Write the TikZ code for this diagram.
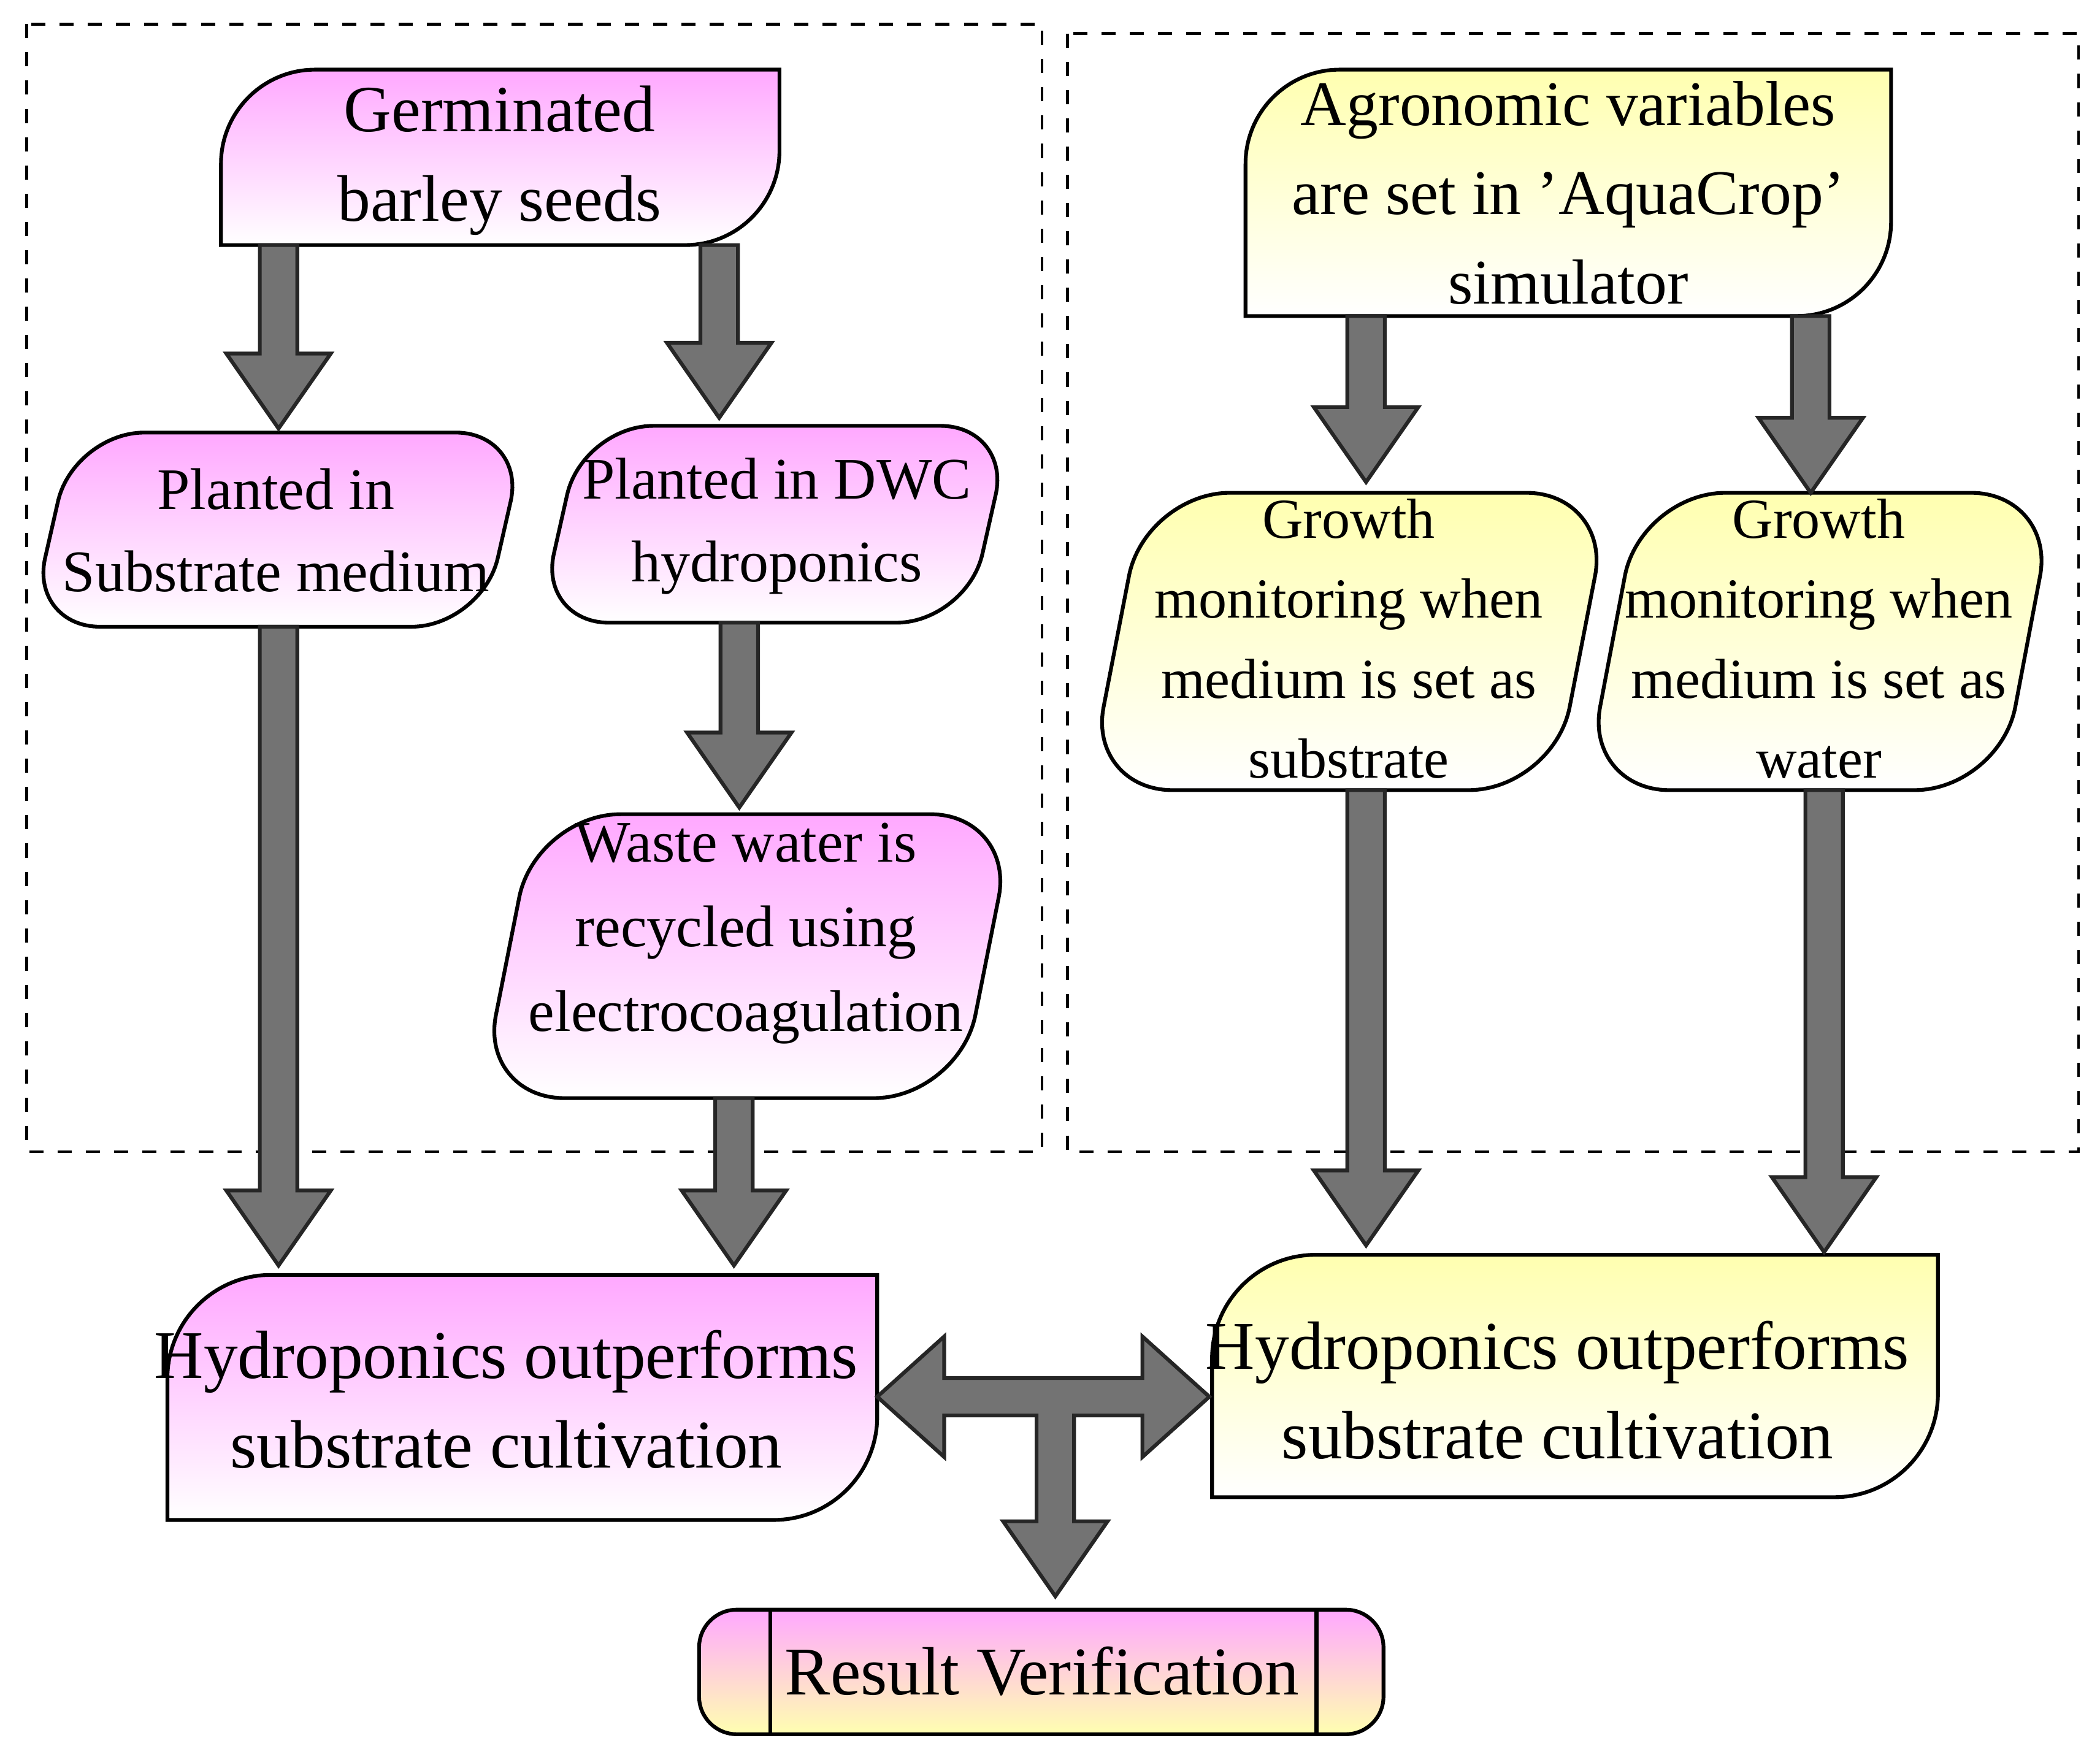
\documentclass[tikz,border=0pt]{standalone}
\usepackage{fontspec}
\setmainfont{Liberation Serif}
\begin{document}
\begin{tikzpicture}[x=0.01cm,y=-0.01cm,
  pinkbox/.style={draw=black,line width=0.8pt,top color=pinktop,bottom color=white},
  yelbox/.style={draw=black,line width=0.8pt,top color=yeltop,bottom color=white},
  txt/.style={align=center,font=\fontsize{12.5}{17.5}\selectfont},
  big/.style={align=center,font=\fontsize{14.5}{19}\selectfont},
  blk/.style={draw=black!85,line width=0.8pt,fill=black!55,line join=miter},
  frame/.style={draw,dashed,line width=0.6pt}]
\definecolor{pinktop}{HTML}{FFA8FF}
\definecolor{yeltop}{HTML}{FFFFB0}
\useasboundingbox (0,0) rectangle (1568,1312);
\fill[white] (0,0) rectangle (1568,1312);
% vertical block arrow: x, ystart, yend
\newcommand\vblk[3]{\draw[blk] (#1-14,#2) -- (#1+14,#2) -- (#1+14,#3-56) -- (#1+39,#3-56) -- (#1,#3) -- (#1-39,#3-56) -- (#1-14,#3-56) -- cycle;}
% frames
\draw[frame] (20,18) rectangle (778,860);
\draw[frame] (797,25) rectangle (1552,860);
% boxes
\path[pinkbox] (165,183) [rounded corners=20]-- (165,52) [sharp corners]-- (582,52) [rounded corners=20]-- (582,183) [sharp corners]-- cycle;
\node[txt,font=\fontsize{14}{19}\selectfont] (germ) at (373,120) {Germinated\\barley seeds};
\path[pinkbox,rounded corners=15] (55,323) -- (393,323) -- (360,468) -- (22,468) -- cycle;
\node[txt] (sub) at (206,396) {Planted in\\Substrate medium};
\path[pinkbox,rounded corners=15] (435,318) -- (755,318) -- (722,465) -- (402,465) -- cycle;
\node[txt] (dwc) at (580,393) {Planted in DWC\\hydroponics};
\path[pinkbox,rounded corners=18] (400,608) -- (758,608) -- (716,820) -- (358,820) -- cycle;
\node[txt,font=\fontsize{12.5}{18}\selectfont] (waste) at (557,697) {Waste water is\\recycled using\\electrocoagulation};
\path[yelbox] (930,236) [rounded corners=20]-- (930,52) [sharp corners]-- (1412,52) [rounded corners=20]-- (1412,236) [sharp corners]-- cycle;
\node[txt,font=\fontsize{13.5}{19}\selectfont] (agro) at (1171,144) {Agronomic variables\\are set in 'AquaCrop'\\simulator};
\path[yelbox,rounded corners=18] (855,368) -- (1203,368) -- (1160,590) -- (812,590) -- cycle;
\node[txt,font=\fontsize{12}{17}\selectfont] (g1) at (1007,477) {Growth\\monitoring when\\medium is set as\\substrate};
\path[yelbox,rounded corners=18] (1225,368) -- (1535,368) -- (1493,590) -- (1183,590) -- cycle;
\node[txt,font=\fontsize{12}{17}\selectfont] (g2) at (1358,477) {Growth\\monitoring when\\medium is set as\\water};
\path[pinkbox] (125,1135) [rounded corners=22]-- (125,952) [sharp corners]-- (655,952) [rounded corners=22]-- (655,1135) [sharp corners]-- cycle;
\node[big] (hl) at (378,1045) {Hydroponics outperforms\\substrate cultivation};
\path[yelbox] (905,1118) [rounded corners=22]-- (905,937) [sharp corners]-- (1447,937) [rounded corners=22]-- (1447,1118) [sharp corners]-- cycle;
\node[big] (hr) at (1163,1038) {Hydroponics outperforms\\substrate cultivation};
\path[draw=black,line width=0.8pt,top color=pinktop,bottom color=yeltop,rounded corners=8] (522,1202) rectangle (1033,1295);
\draw[line width=0.8pt] (575,1202) -- (575,1295) (983,1202) -- (983,1295);
\node[big] (res) at (778,1248) {Result Verification};
% arrows
\vblk{208}{183}{320}
\vblk{537}{183}{312}
\vblk{208}{468}{945}
\vblk{552}{465}{603}
\vblk{548}{820}{945}
\vblk{1020}{236}{360}
\vblk{1352}{236}{368}
\vblk{1020}{590}{930}
\vblk{1362}{590}{935}
\draw[blk] (655,1043) -- (705,998) -- (705,1029) -- (774,1029) -- (802,1029) -- (853,1029) -- (853,998) -- (903,1043) -- (853,1088) -- (853,1057) -- (802,1057) -- (802,1136) -- (827,1136) -- (788,1192) -- (749,1136) -- (774,1136) -- (774,1057) -- (705,1057) -- (705,1088) -- cycle;
\end{tikzpicture}
\end{document}
